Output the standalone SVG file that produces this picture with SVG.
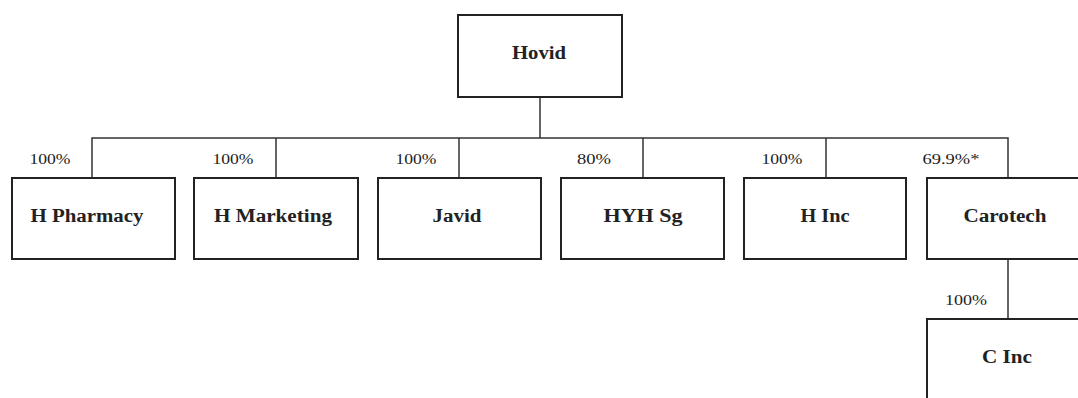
<svg xmlns="http://www.w3.org/2000/svg" width="1078" height="398" viewBox="0 0 1078 398">
<style>
.box{fill:#fff;stroke:#222;stroke-width:2}
.name{font-family:"Liberation Serif","Times New Roman",serif;font-weight:bold;font-size:18px;fill:#222;text-anchor:middle}
.pct{font-family:"Liberation Serif","Times New Roman",serif;font-size:15px;fill:#222;text-anchor:middle}
.con{fill:none;stroke:#333;stroke-width:1.5}
</style>
<rect width="1078" height="398" fill="#fff"/>
<g id="connectors">
<path class="con" d="M540 97V138M92 178V138H1008V178M276 138V178M459 138V178M643 138V178M826 138V178M1008 259V319"/>
</g>
<g id="labels">
<text class="pct" x="50" y="164" textLength="41" lengthAdjust="spacingAndGlyphs">100%</text>
<text class="pct" x="233" y="164" textLength="41" lengthAdjust="spacingAndGlyphs">100%</text>
<text class="pct" x="416" y="164" textLength="41" lengthAdjust="spacingAndGlyphs">100%</text>
<text class="pct" x="594" y="164" textLength="34" lengthAdjust="spacingAndGlyphs">80%</text>
<text class="pct" x="782" y="164" textLength="41" lengthAdjust="spacingAndGlyphs">100%</text>
<text class="pct" x="951" y="164" textLength="57" lengthAdjust="spacingAndGlyphs">69.9%*</text>
<text class="pct" x="966" y="305" textLength="42" lengthAdjust="spacingAndGlyphs">100%</text>
</g>
<g id="hovid"><rect class="box" x="458" y="15" width="164" height="82"/><text class="name" x="539" y="59" textLength="54" lengthAdjust="spacingAndGlyphs">Hovid</text></g>
<g id="h-pharmacy"><rect class="box" x="12" y="178" width="163" height="81"/><text class="name" x="87" y="222" textLength="113" lengthAdjust="spacingAndGlyphs">H Pharmacy</text></g>
<g id="h-marketing"><rect class="box" x="194" y="178" width="164" height="81"/><text class="name" x="273" y="222" textLength="118" lengthAdjust="spacingAndGlyphs">H Marketing</text></g>
<g id="javid"><rect class="box" x="378" y="178" width="163" height="81"/><text class="name" x="457" y="222" textLength="49" lengthAdjust="spacingAndGlyphs">Javid</text></g>
<g id="hyh-sg"><rect class="box" x="561" y="178" width="163" height="81"/><text class="name" x="643" y="222" textLength="79" lengthAdjust="spacingAndGlyphs">HYH Sg</text></g>
<g id="h-inc"><rect class="box" x="744" y="178" width="162" height="81"/><text class="name" x="825" y="222" textLength="49" lengthAdjust="spacingAndGlyphs">H Inc</text></g>
<g id="carotech"><rect class="box" x="927" y="178" width="170" height="81"/><text class="name" x="1005" y="222" textLength="83" lengthAdjust="spacingAndGlyphs">Carotech</text></g>
<g id="c-inc"><rect class="box" x="927" y="319" width="170" height="90"/><text class="name" x="1007" y="363" textLength="50" lengthAdjust="spacingAndGlyphs">C Inc</text></g>
</svg>
